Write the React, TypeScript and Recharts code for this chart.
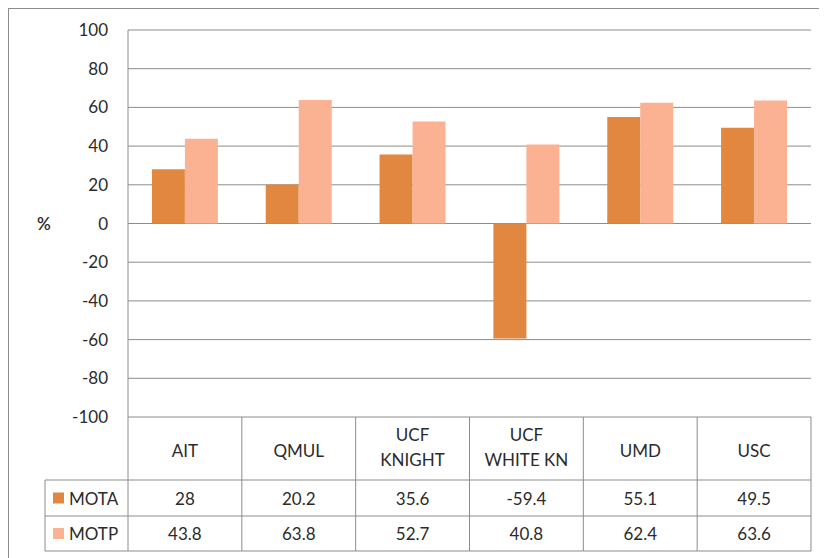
import { BarChart, Bar, XAxis, YAxis, CartesianGrid } from 'recharts';

const categories = ['AIT', 'QMUL', 'UCF\nKNIGHT', 'UCF\nWHITE KN', 'UMD', 'USC'];
const mota = [28, 20.2, 35.6, -59.4, 55.1, 49.5];
const motp = [43.8, 63.8, 52.7, 40.8, 62.4, 63.6];
const yTicks = [-100, -80, -60, -40, -20, 0, 20, 40, 60, 80, 100];

const series = [
  { key: 'MOTA', values: mota, color: '#E2873F' },
  { key: 'MOTP', values: motp, color: '#FBB293' },
];

const data = categories.map((name, i) => ({ name, MOTA: mota[i], MOTP: motp[i] }));

const CHART_W = 818;
const CHART_H = 549;
const MARGIN = { top: 21, right: 16, left: 0, bottom: 0 };
const Y_AXIS_W = 119;
const X_AXIS_H = 141;
const PLOT_W = CHART_W - MARGIN.left - MARGIN.right - Y_AXIS_W;
const TABLE_TOP = CHART_H - MARGIN.bottom - X_AXIS_H;
const HEAD_H = 63;
const ROW_H = [36, 35];
const LEGEND_LEFT = 36;
const LINE = '#8c8c8c';
const TEXT = '#2b2b2b';
const FONT = 'Lato, "Noto Sans", sans-serif';
const FS = 17;

function TableTick(props: any) {
  const { x, payload } = props;
  const idx = categories.indexOf(payload.value);
  const colW = PLOT_W / categories.length;
  const left = x - colW / 2;
  const right = x + colW / 2;
  const top = TABLE_TOP;
  const r1 = top + HEAD_H;
  const r2 = r1 + ROW_H[0];
  const bottom = r2 + ROW_H[1];
  const lines = String(payload.value).split('\n');
  return (
    <g fontFamily={FONT} fontSize={FS} fill={TEXT}>
      {idx === 0 && (
        <g>
          <line x1={left} y1={top} x2={left} y2={bottom} stroke={LINE} />
          <line x1={LEGEND_LEFT} y1={r1} x2={left} y2={r1} stroke={LINE} />
          <line x1={LEGEND_LEFT} y1={r2} x2={left} y2={r2} stroke={LINE} />
          <line x1={LEGEND_LEFT} y1={bottom} x2={left} y2={bottom} stroke={LINE} />
          <line x1={LEGEND_LEFT} y1={r1} x2={LEGEND_LEFT} y2={bottom} stroke={LINE} />
          {series.map((s, si) => {
            const cy = si === 0 ? r1 + ROW_H[0] / 2 : r2 + ROW_H[1] / 2;
            return (
              <g key={s.key}>
                <rect x={LEGEND_LEFT + 8} y={cy - 5.5} width={11} height={11} fill={s.color} />
                <text x={LEGEND_LEFT + 24} y={cy} dominantBaseline="central" textAnchor="start">
                  {s.key}
                </text>
              </g>
            );
          })}
        </g>
      )}
      <line x1={right} y1={top} x2={right} y2={bottom} stroke={LINE} />
      <line x1={left} y1={r1} x2={right} y2={r1} stroke={LINE} />
      <line x1={left} y1={r2} x2={right} y2={r2} stroke={LINE} />
      <line x1={left} y1={bottom} x2={right} y2={bottom} stroke={LINE} />
      {lines.length === 1 ? (
        <text x={x} y={top + 33} textAnchor="middle" dominantBaseline="central">
          {lines[0]}
        </text>
      ) : (
        lines.map((l, li) => (
          <text key={li} x={x} y={top + 17 + li * 25} textAnchor="middle" dominantBaseline="central">
            {l}
          </text>
        ))
      )}
      <text x={x} y={r1 + ROW_H[0] / 2} textAnchor="middle" dominantBaseline="central">
        {mota[idx]}
      </text>
      <text x={x} y={r2 + ROW_H[1] / 2} textAnchor="middle" dominantBaseline="central">
        {motp[idx]}
      </text>
    </g>
  );
}

export default function App() {
  return (
    <div style={{ borderTop: `1px solid ${LINE}`, borderLeft: `1px solid ${LINE}`, width: CHART_W + 10, height: CHART_H, background: '#fff' }}>
      <BarChart width={CHART_W} height={CHART_H} data={data} margin={MARGIN} barCategoryGap="21%" barGap={0}>
        <CartesianGrid horizontal vertical={false} stroke={LINE} />
        <XAxis
          dataKey="name"
          height={X_AXIS_H}
          axisLine={false}
          tickLine={false}
          tickSize={0}
          tickMargin={0}
          interval={0}
          tick={<TableTick />}
        />
        <YAxis
          width={Y_AXIS_W}
          domain={[-100, 100]}
          ticks={yTicks}
          interval={0}
          axisLine={{ stroke: LINE }}
          tickLine={false}
          tickSize={0}
          tickMargin={20}
          tick={{ fill: TEXT, fontSize: FS, fontFamily: FONT }}
          label={{ value: '%', position: 'insideLeft', offset: 28, fill: TEXT, fontSize: FS, fontFamily: FONT, fontWeight: 600 }}
        />
        {series.map((s) => (
          <Bar key={s.key} dataKey={s.key} fill={s.color} isAnimationActive={false} />
        ))}
      </BarChart>
    </div>
  );
}
